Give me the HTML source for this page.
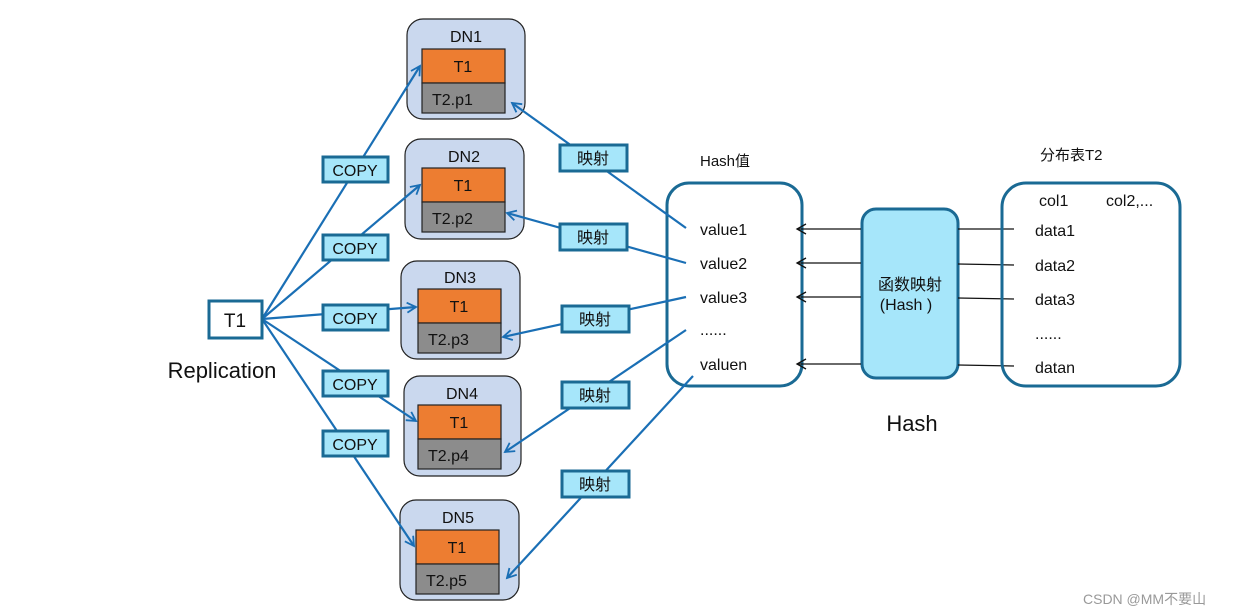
<!DOCTYPE html>
<html><head><meta charset="utf-8"><style>
html,body{margin:0;padding:0;background:#fff;width:1238px;height:616px;overflow:hidden}
text{font-family:"Liberation Sans","Noto Sans CJK SC",sans-serif;fill:#111}
</style></head><body>
<svg width="1238" height="616" viewBox="0 0 1238 616" xmlns="http://www.w3.org/2000/svg">
<defs>
<marker id="a" markerWidth="12" markerHeight="12" refX="10" refY="6" orient="auto" markerUnits="userSpaceOnUse">
<path d="M1,1 L10,6 L1,11" fill="none" stroke="#1a6fb5" stroke-width="1.8"/></marker>
<marker id="k" markerWidth="12" markerHeight="12" refX="10" refY="6" orient="auto" markerUnits="userSpaceOnUse">
<path d="M1,1 L10,6 L1,11" fill="none" stroke="#111" stroke-width="1.3"/></marker>
</defs>
<!-- hash values box -->
<rect x="667" y="183" width="135" height="203" rx="22" fill="#fff" stroke="#1a6a94" stroke-width="3"/>
<!-- DN boxes -->
<g stroke="#222" stroke-width="1.2">
<rect x="407" y="19" width="118" height="100" rx="16" fill="#cad8ee"/>
<rect x="405" y="139" width="119" height="100" rx="16" fill="#cad8ee"/>
<rect x="401" y="261" width="119" height="98" rx="16" fill="#cad8ee"/>
<rect x="404" y="376" width="117" height="100" rx="16" fill="#cad8ee"/>
<rect x="400" y="500" width="119" height="100" rx="16" fill="#cad8ee"/>
<rect x="422" y="49" width="83" height="34" fill="#ed7d31"/><rect x="422" y="83" width="83" height="30" fill="#8c8c8c"/>
<rect x="422" y="168" width="83" height="34" fill="#ed7d31"/><rect x="422" y="202" width="83" height="30" fill="#8c8c8c"/>
<rect x="418" y="289" width="83" height="34" fill="#ed7d31"/><rect x="418" y="323" width="83" height="30" fill="#8c8c8c"/>
<rect x="418" y="405" width="83" height="34" fill="#ed7d31"/><rect x="418" y="439" width="83" height="30" fill="#8c8c8c"/>
<rect x="416" y="530" width="83" height="34" fill="#ed7d31"/><rect x="416" y="564" width="83" height="30" fill="#8c8c8c"/>
</g>
<g font-size="16" text-anchor="middle">
<text x="466" y="42">DN1</text><text x="464" y="162">DN2</text><text x="460" y="283">DN3</text><text x="462" y="399">DN4</text><text x="458" y="523">DN5</text>
<text x="463" y="72">T1</text><text x="463" y="191">T1</text><text x="459" y="312">T1</text><text x="459" y="428">T1</text><text x="457" y="553">T1</text>
</g>
<g font-size="16">
<text x="432" y="105">T2.p1</text><text x="432" y="224">T2.p2</text><text x="428" y="345">T2.p3</text><text x="428" y="461">T2.p4</text><text x="426" y="586">T2.p5</text>
</g>
<!-- connector lines -->
<g stroke="#1a6fb5" stroke-width="2.2" fill="none" marker-end="url(#a)">
<line x1="262" y1="319" x2="420" y2="66"/>
<line x1="262" y1="319" x2="420" y2="185"/>
<line x1="262" y1="319" x2="416" y2="307"/>
<line x1="262" y1="319" x2="416" y2="421"/>
<line x1="262" y1="319" x2="414" y2="546"/>
<line x1="686" y1="228" x2="512" y2="103"/>
<line x1="686" y1="263" x2="507" y2="213"/>
<line x1="686" y1="297" x2="503" y2="337"/>
<line x1="686" y1="330" x2="505" y2="452"/>
<line x1="693" y1="376" x2="507" y2="578"/>
</g>
<!-- T1 -->
<rect x="209" y="301" width="53" height="37" fill="#fff" stroke="#1a6a94" stroke-width="3"/>
<text x="235" y="327" font-size="19" text-anchor="middle">T1</text>
<text x="222" y="378" font-size="22" text-anchor="middle">Replication</text>
<!-- COPY -->
<g fill="#a6e6fa" stroke="#1a6a94" stroke-width="3">
<rect x="323" y="157" width="65" height="25"/><rect x="323" y="235" width="65" height="25"/><rect x="323" y="305" width="65" height="25"/><rect x="323" y="371" width="65" height="25"/><rect x="323" y="431" width="65" height="25"/>
<rect x="560" y="145" width="67" height="26"/><rect x="560" y="224" width="67" height="26"/><rect x="562" y="306" width="67" height="26"/><rect x="562" y="382" width="67" height="26"/><rect x="562" y="471" width="67" height="26"/>
</g>
<g font-size="16" text-anchor="middle">
<text x="355" y="176">COPY</text><text x="355" y="254">COPY</text><text x="355" y="324">COPY</text><text x="355" y="390">COPY</text><text x="355" y="450">COPY</text>
<text x="593" y="164">映射</text><text x="593" y="243">映射</text><text x="595" y="325">映射</text><text x="595" y="401">映射</text><text x="595" y="490">映射</text>
</g>
<text x="700" y="166" font-size="15">Hash值</text>
<g font-size="16"><text x="700" y="235">value1</text><text x="700" y="269">value2</text><text x="700" y="303">value3</text><text x="700" y="335">......</text><text x="700" y="370">valuen</text></g>
<!-- func box -->
<rect x="862" y="209" width="96" height="169" rx="14" fill="#a6e6fa" stroke="#1a6a94" stroke-width="3"/>
<text x="910" y="290" font-size="16" text-anchor="middle">函数映射</text>
<text x="906" y="310" font-size="16" text-anchor="middle">(Hash )</text>
<text x="912" y="431" font-size="22" text-anchor="middle">Hash</text>
<g stroke="#111" stroke-width="1.3" marker-end="url(#k)">
<line x1="861" y1="229" x2="797" y2="229"/><line x1="861" y1="263" x2="797" y2="263"/><line x1="861" y1="297" x2="797" y2="297"/><line x1="861" y1="364" x2="797" y2="364"/>
</g>
<g stroke="#111" stroke-width="1.3">
<line x1="958" y1="229" x2="1014" y2="229"/><line x1="958" y1="264" x2="1014" y2="265"/><line x1="958" y1="298" x2="1014" y2="299"/><line x1="958" y1="365" x2="1014" y2="366"/>
</g>
<!-- table box -->
<rect x="1002" y="183" width="178" height="203" rx="24" fill="none" stroke="#1a6a94" stroke-width="3"/>
<text x="1040" y="160" font-size="15">分布表T2</text>
<g font-size="16"><text x="1039" y="206">col1</text><text x="1106" y="206">col2,...</text>
<text x="1035" y="236">data1</text><text x="1035" y="271">data2</text><text x="1035" y="305">data3</text><text x="1035" y="339">......</text><text x="1035" y="373">datan</text></g>
<text x="1083" y="604" font-size="14" style="fill:#999">CSDN @MM不要山</text>
</svg>
</body></html>
